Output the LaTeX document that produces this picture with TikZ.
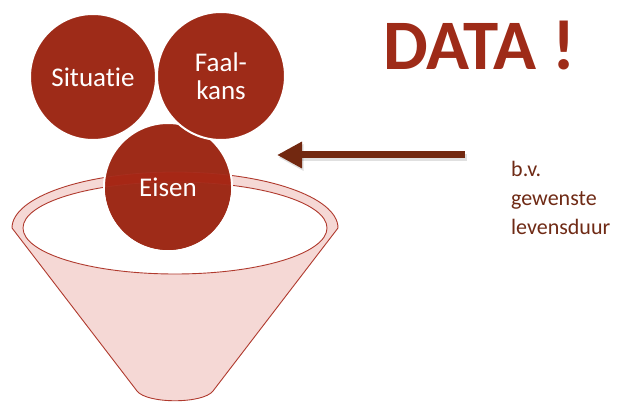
\documentclass[tikz,border=0pt]{standalone}
\usepackage{fontspec}
\setmainfont{Carlito}[RawFeature=-liga]
\usetikzlibrary{arrows.meta}
\definecolor{ballred}{RGB}{158,43,24}
\definecolor{arrowbrown}{RGB}{114,40,16}
\definecolor{textbrown}{RGB}{111,42,21}
\definecolor{funnelpink}{RGB}{245,216,213}
\definecolor{funnelline}{RGB}{176,58,46}
\tikzset{
  balltext/.style={text=white, font=\fontsize{27}{28}\selectfont, align=center},
  ball/.style={circle, fill=ballred, draw=white, line width=2pt, inner sep=0pt, balltext},
  funnelbody/.style={fill=funnelpink, draw=funnelline, line width=0.9pt},
  funnelmouth/.style={fill=white, draw=funnelline, line width=0.9pt},
  bigarrow/.style={draw=arrowbrown, line width=7pt, -{Triangle[length=25pt,width=25pt]}},
  arrowshadow/.style={draw=black, opacity=0.12, line width=7pt, -{Triangle[length=25pt,width=25pt]}},
}
\begin{document}
\begin{tikzpicture}[x=1pt,y=-1pt]
\useasboundingbox[fill=white] (0,0) rectangle (624,403);
% funnel
\path[funnelbody] (12,228) arc[start angle=180, end angle=360, x radius=163, y radius=56]
  -- (213,391) .. controls (203,404) and (147,404) .. (137,391) -- cycle;
\path[funnelmouth] (175,228) ellipse[x radius=152, y radius=46];
% balls
\node[ball, minimum size=126pt] (sit) at (93,77) {Situatie};
\node[ball, minimum size=128pt] (eis) at (168,187) {};
\begin{scope}
  \clip (eis.center) circle[radius=63];
  \fill[red!60!ballred, opacity=0.15] (12,228) arc[start angle=180, end angle=360, x radius=163, y radius=56]
    -- (338,240) -- (12,240) -- cycle;
  \fill[ballred] (175,228) ellipse[x radius=152, y radius=46];
  \draw[funnelline, opacity=0.35, line width=0.8pt] (12,228) arc[start angle=180, end angle=360, x radius=163, y radius=56];
  \draw[funnelline, opacity=0.35, line width=0.8pt] (175,228) ellipse[x radius=152, y radius=46];
\end{scope}
\node[balltext, inner sep=0pt] (eistext) at (eis.center) {Eisen};
\node[ball, minimum size=128pt] (faal) at (221,76) {Faal-\\kans};
% arrow
\coordinate (arrS) at (465,155);
\coordinate (arrE) at (277,155);
\draw[arrowshadow, transform canvas={shift={(1.5pt,-2.5pt)}}] (arrS) -- (arrE);
\draw[bigarrow] (arrS) -- (arrE);
% texts
\node[anchor=base west, inner sep=0pt, text=ballred, font=\fontsize{71}{71}\selectfont\bfseries] (data) at (383,70) {DATA !};
\node[anchor=north west, inner sep=0pt, text=textbrown, align=left, font=\fontsize{22}{29}\selectfont] (bv) at (511,161) {b.v.\\gewenste\\levensduur};
\end{tikzpicture}
\end{document}
